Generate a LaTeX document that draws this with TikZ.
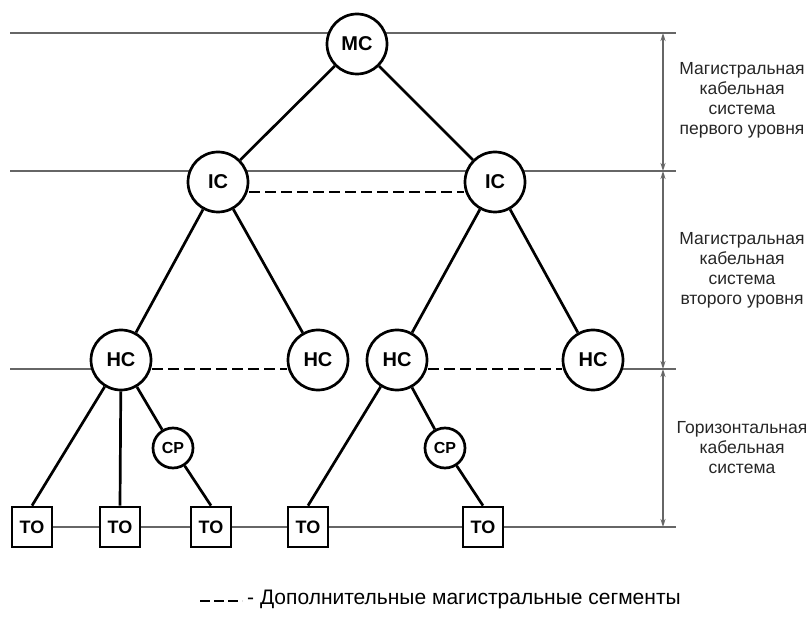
\documentclass[tikz,border=0pt]{standalone}
\usepackage{fontspec}
\setmainfont{Liberation Sans}
\usetikzlibrary{arrows.meta}
\begin{document}
\begin{tikzpicture}[x=1pt,y=-1pt,
  hub/.style={circle,draw=black,line width=2.7pt,minimum size=60pt,inner sep=0pt,font=\fontsize{20}{20}\selectfont\bfseries,fill=white},
  cpnode/.style={circle,draw=black,line width=2.7pt,minimum size=40pt,inner sep=0pt,font=\fontsize{16}{16}\selectfont\bfseries,fill=white},
  tobox/.style={rectangle,draw=black,line width=2.7pt,minimum size=40pt,inner sep=0pt,font=\fontsize{18}{18}\selectfont\bfseries,fill=white},
  link/.style={line width=2.7pt,black},
  extra/.style={line width=2.8pt,black,dash pattern=on 11pt off 5pt},
  level/.style={line width=1.5pt,gray!80!black},
  dim/.style={line width=1.5pt,gray!80!black,{Stealth[length=8pt,width=5pt]}-{Stealth[length=8pt,width=5pt]}},
  lab/.style={align=center,font=\fontsize{17.5}{20}\selectfont,text=black!85}]
\useasboundingbox (0,0) rectangle (809,636);
% level line end points
\coordinate (l0a) at (10,33);
\coordinate (l0b) at (676,33);
\coordinate (l1a) at (10,171);
\coordinate (l1b) at (676,171);
\coordinate (l2a) at (10,369);
\coordinate (l2b) at (676,369);
\coordinate (l3b) at (676,527);
\coordinate (d0) at (663,33);
\coordinate (d1) at (663,171);
\coordinate (d2) at (663,369);
\coordinate (d3) at (663,527);
% level lines (behind nodes)
\draw[level] (l0a) -- (l0b);
\draw[level] (l1a) -- (l1b);
\draw[level] (l2a) -- (122,369);
\draw[level] (593,369) -- (l2b);
\draw[level] (32,527) -- (l3b);
% nodes
\node[hub] (mc) at (357,44) {MC};
\node[hub] (ic1) at (218,182) {IC};
\node[hub] (ic2) at (495,182) {IC};
\node[hub] (hc1) at (121,360) {HC};
\node[hub] (hc2) at (318,360) {HC};
\node[hub] (hc3) at (397,360) {HC};
\node[hub] (hc4) at (593,360) {HC};
\node[cpnode] (cp1) at (173,448) {CP};
\node[cpnode] (cp2) at (445,448) {CP};
\node[tobox] (to1) at (32,527) {TO};
\node[tobox] (to2) at (120,527) {TO};
\node[tobox] (to3) at (211,527) {TO};
\node[tobox] (to4) at (308,527) {TO};
\node[tobox] (to5) at (483,527) {TO};
% tree links
\draw[link] (mc) -- (ic1);
\draw[link] (mc) -- (ic2);
\draw[link] (ic1) -- (hc1);
\draw[link] (ic1) -- (hc2);
\draw[link] (ic2) -- (hc3);
\draw[link] (ic2) -- (hc4);
\draw[link] (hc1) -- (to1.north);
\draw[link] (hc1) -- (to2.north);
\draw[link] (hc1) -- (cp1);
\draw[link] (cp1) -- (to3.north);
\draw[link] (hc3) -- (to4.north);
\draw[link] (hc3) -- (cp2);
\draw[link] (cp2) -- (to5.north);
% additional segments
\draw[extra] (ic1.east |- 0,192) -- (ic2.west |- 0,192);
\draw[extra] (hc1.east |- 0,369) -- (hc2.west |- 0,369);
\draw[extra] (hc3.east |- 0,369) -- (hc4.west |- 0,369);
% dimension arrows
\draw[dim] (d0) -- (d1);
\draw[dim] (d1) -- (d2);
\draw[dim] (d2) -- (d3);
\node[lab] (t1) at (742,100) {Магистральная\\кабельная\\система\\первого уровня};
\node[lab] (t2) at (742,270) {Магистральная\\кабельная\\система\\второго уровня};
\node[lab] (t3) at (742,448) {Горизонтальная\\кабельная\\система};
% legend
\coordinate (lg0) at (200,601);
\coordinate (lg1) at (242,601);
\draw[line width=2.8pt,dash pattern=on 10pt off 4pt] (lg0) -- (lg1);
\node[anchor=west,font=\fontsize{21}{21}\selectfont,inner sep=0pt] (legend) at (247,599) {- Дополнительные магистральные сегменты};
\end{tikzpicture}
\end{document}
